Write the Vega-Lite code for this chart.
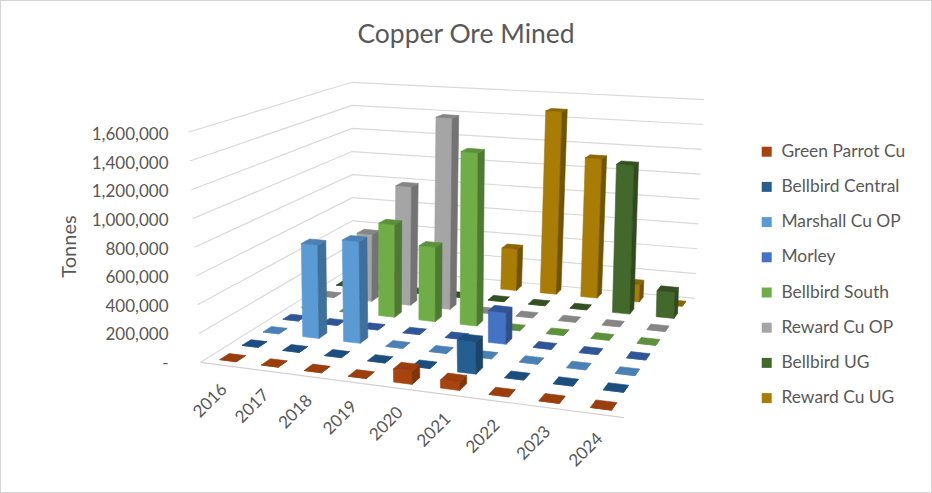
{
"$schema":"https://vega.github.io/schema/vega-lite/v6.json",
"width":932,"height":493,"padding":0,"autosize":{"type":"none"},"background":"white",
"title":{"text":"Copper Ore Mined","fontSize":26.5,"font":"Lato","fontWeight":"normal","color":"#595959","anchor":"middle","frame":"group","offset":-48},
"config":{"view":{"stroke":"#d4d4d4","strokeWidth":2},"font":"Lato"},
"datasets":{
"ticks":[{"tonnes":0},{"tonnes":200000},{"tonnes":400000},{"tonnes":600000},{"tonnes":800000},{"tonnes":1000000},{"tonnes":1200000},{"tonnes":1400000},{"tonnes":1600000}],
"years":[{"year":2016},{"year":2017},{"year":2018},{"year":2019},{"year":2020},{"year":2021},{"year":2022},{"year":2023},{"year":2024}],
"mined":[
{"year":2016,"series":"Reward Cu UG","tonnes":0},{"year":2017,"series":"Reward Cu UG","tonnes":0},{"year":2018,"series":"Reward Cu UG","tonnes":0},{"year":2019,"series":"Reward Cu UG","tonnes":0},{"year":2020,"series":"Reward Cu UG","tonnes":335000},{"year":2021,"series":"Reward Cu UG","tonnes":1476000},{"year":2022,"series":"Reward Cu UG","tonnes":1117000},{"year":2023,"series":"Reward Cu UG","tonnes":137000},{"year":2024,"series":"Reward Cu UG","tonnes":0},
{"year":2016,"series":"Bellbird UG","tonnes":0},{"year":2017,"series":"Bellbird UG","tonnes":0},{"year":2018,"series":"Bellbird UG","tonnes":0},{"year":2019,"series":"Bellbird UG","tonnes":0},{"year":2020,"series":"Bellbird UG","tonnes":0},{"year":2021,"series":"Bellbird UG","tonnes":0},{"year":2022,"series":"Bellbird UG","tonnes":0},{"year":2023,"series":"Bellbird UG","tonnes":1150000},{"year":2024,"series":"Bellbird UG","tonnes":200000},
{"year":2016,"series":"Reward Cu OP","tonnes":0},{"year":2017,"series":"Reward Cu OP","tonnes":527000},{"year":2018,"series":"Reward Cu OP","tonnes":927000},{"year":2019,"series":"Reward Cu OP","tonnes":1485000},{"year":2020,"series":"Reward Cu OP","tonnes":0},{"year":2021,"series":"Reward Cu OP","tonnes":0},{"year":2022,"series":"Reward Cu OP","tonnes":0},{"year":2023,"series":"Reward Cu OP","tonnes":0},{"year":2024,"series":"Reward Cu OP","tonnes":0},
{"year":2016,"series":"Bellbird South","tonnes":0},{"year":2017,"series":"Bellbird South","tonnes":0},{"year":2018,"series":"Bellbird South","tonnes":705000},{"year":2019,"series":"Bellbird South","tonnes":562000},{"year":2020,"series":"Bellbird South","tonnes":1300000},{"year":2021,"series":"Bellbird South","tonnes":0},{"year":2022,"series":"Bellbird South","tonnes":0},{"year":2023,"series":"Bellbird South","tonnes":0},{"year":2024,"series":"Bellbird South","tonnes":0},
{"year":2016,"series":"Morley","tonnes":0},{"year":2017,"series":"Morley","tonnes":0},{"year":2018,"series":"Morley","tonnes":0},{"year":2019,"series":"Morley","tonnes":0},{"year":2020,"series":"Morley","tonnes":0},{"year":2021,"series":"Morley","tonnes":230000},{"year":2022,"series":"Morley","tonnes":0},{"year":2023,"series":"Morley","tonnes":0},{"year":2024,"series":"Morley","tonnes":0},
{"year":2016,"series":"Marshall Cu OP","tonnes":0},{"year":2017,"series":"Marshall Cu OP","tonnes":680000},{"year":2018,"series":"Marshall Cu OP","tonnes":735000},{"year":2019,"series":"Marshall Cu OP","tonnes":0},{"year":2020,"series":"Marshall Cu OP","tonnes":0},{"year":2021,"series":"Marshall Cu OP","tonnes":0},{"year":2022,"series":"Marshall Cu OP","tonnes":0},{"year":2023,"series":"Marshall Cu OP","tonnes":0},{"year":2024,"series":"Marshall Cu OP","tonnes":0},
{"year":2016,"series":"Bellbird Central","tonnes":0},{"year":2017,"series":"Bellbird Central","tonnes":0},{"year":2018,"series":"Bellbird Central","tonnes":0},{"year":2019,"series":"Bellbird Central","tonnes":0},{"year":2020,"series":"Bellbird Central","tonnes":0},{"year":2021,"series":"Bellbird Central","tonnes":220000},{"year":2022,"series":"Bellbird Central","tonnes":0},{"year":2023,"series":"Bellbird Central","tonnes":0},{"year":2024,"series":"Bellbird Central","tonnes":0},
{"year":2016,"series":"Green Parrot Cu","tonnes":0},{"year":2017,"series":"Green Parrot Cu","tonnes":0},{"year":2018,"series":"Green Parrot Cu","tonnes":0},{"year":2019,"series":"Green Parrot Cu","tonnes":0},{"year":2020,"series":"Green Parrot Cu","tonnes":90000},{"year":2021,"series":"Green Parrot Cu","tonnes":55000},{"year":2022,"series":"Green Parrot Cu","tonnes":0},{"year":2023,"series":"Green Parrot Cu","tonnes":0},{"year":2024,"series":"Green Parrot Cu","tonnes":0}
]},
"layer":[
{"data":{"name":"ticks"},
"transform":[
{"calculate":"[0,1,2]","as":"verts"},{"flatten":["verts"],"as":["vert"]},
{"calculate":"[0,0,0.985][datum.vert]","as":"uu"},{"calculate":"[0,1,1][datum.vert]","as":"vv"},
{"calculate":"datum.tonnes/1600000","as":"ww"},
{"calculate":"1-0.13126*datum.uu+0.24436*datum.vv","as":"den"},
{"calculate":"(341.4*datum.uu+238.2*datum.vv+200.7)/datum.den+datum.ww*(-12.4+10*datum.uu+11.4*datum.vv)","as":"px"},
{"calculate":"(0.57*datum.uu-30.06*datum.vv+362.3)/datum.den-datum.ww*(230-45.3*datum.vv+14.3*datum.uu)","as":"py"}],
"mark":{"type":"line","stroke":"#d9d9d9","strokeWidth":1.2},
"encoding":{"x":{"field":"px","type":"quantitative","scale":{"domain":[0,932],"range":[0,932]},"axis":null},
"y":{"field":"py","type":"quantitative","scale":{"domain":[0,493],"range":[0,493]},"axis":null},
"detail":{"field":"tonnes"},"order":{"field":"vert"}}},
{"data":{"values":[{"tonnes":0}]},
"transform":[
{"calculate":"[0,1]","as":"verts"},{"flatten":["verts"],"as":["vert"]},
{"calculate":"datum.vert","as":"uu"},
{"calculate":"1-0.13126*datum.uu","as":"den"},
{"calculate":"(341.4*datum.uu+200.7)/datum.den","as":"px"},
{"calculate":"(0.57*datum.uu+362.3)/datum.den","as":"py"}],
"mark":{"type":"line","stroke":"#d6cfcf","strokeWidth":1.2},
"encoding":{"x":{"field":"px","type":"quantitative","scale":{"domain":[0,932],"range":[0,932]},"axis":null},
"y":{"field":"py","type":"quantitative","scale":{"domain":[0,493],"range":[0,493]},"axis":null},
"order":{"field":"vert"}}},
{"data":{"name":"mined"},
"transform":[
{"calculate":"datum.year-2016","as":"i"},
{"calculate":"indexof(['Green Parrot Cu','Bellbird Central','Marshall Cu OP','Morley','Bellbird South','Reward Cu OP','Bellbird UG','Reward Cu UG'],datum.series)","as":"j"},
{"calculate":"(datum.i+0.3)/9","as":"u0"},{"calculate":"(datum.i+0.7)/9","as":"u1"},
{"calculate":"(datum.j+0.29)/8","as":"v0"},{"calculate":"(datum.j+0.71)/8","as":"v1"},
{"calculate":"datum.tonnes/1600000","as":"w"},
{"calculate":"[0,1,2]","as":"faces"},{"flatten":["faces"],"as":["face"]},
{"calculate":"[0,1,2,3]","as":"verts"},{"flatten":["verts"],"as":["vert"]},
{"calculate":"datum.face==1?datum.u1:[datum.u0,datum.u1,datum.u1,datum.u0][datum.vert]","as":"uu"},
{"calculate":"datum.face==0?datum.v0:datum.face==1?[datum.v0,datum.v1,datum.v1,datum.v0][datum.vert]:[datum.v0,datum.v0,datum.v1,datum.v1][datum.vert]","as":"vv"},
{"calculate":"datum.face==2?datum.w:[0,0,datum.w,datum.w][datum.vert]","as":"ww"},
{"calculate":"1-0.13126*datum.uu+0.24436*datum.vv","as":"den"},
{"calculate":"(341.4*datum.uu+238.2*datum.vv+200.7)/datum.den+datum.ww*(-7.4+5*datum.uu+11.4*datum.vv)","as":"px"},
{"calculate":"(0.57*datum.uu-30.06*datum.vv+362.3)/datum.den-datum.ww*(230-45.3*datum.vv+14.3*datum.uu)","as":"py"},
{"calculate":"datum.face==0?datum.series:datum.series+(datum.face==1?'|side':'|top')","as":"key"},
{"calculate":"datum.series+datum.year+'-'+datum.face","as":"poly"}],
"mark":{"type":"line","strokeWidth":0.6,"interpolate":"linear-closed"},
"encoding":{"x":{"field":"px","type":"quantitative","scale":{"domain":[0,932],"range":[0,932]},"axis":null},
"y":{"field":"py","type":"quantitative","scale":{"domain":[0,493],"range":[0,493]},"axis":null},
"detail":{"field":"poly"},"order":{"field":"vert"},
"stroke":{"field":"key","type":"nominal","legend":null,
"scale":{"domain":["Green Parrot Cu","Bellbird Central","Marshall Cu OP","Morley","Bellbird South","Reward Cu OP","Bellbird UG","Reward Cu UG","Green Parrot Cu|side","Bellbird Central|side","Marshall Cu OP|side","Morley|side","Bellbird South|side","Reward Cu OP|side","Bellbird UG|side","Reward Cu UG|side","Green Parrot Cu|top","Bellbird Central|top","Marshall Cu OP|top","Morley|top","Bellbird South|top","Reward Cu OP|top","Bellbird UG|top","Reward Cu UG|top"],
"range":["#A8430F","#255E91","#5B9BD5","#4472C4","#70AD47","#A5A5A5","#43682B","#A87C05","#7F340B","#1B4468","#3F6F9B","#304F89","#4E7932","#737373","#2F4A1E","#705303","#9A3E0D","#1B4E7E","#4A80B3","#2F5597","#5C913A","#858585","#344F22","#8A6604"]}},
"fill":{"field":"key","type":"nominal",
"scale":{"domain":["Green Parrot Cu","Bellbird Central","Marshall Cu OP","Morley","Bellbird South","Reward Cu OP","Bellbird UG","Reward Cu UG","Green Parrot Cu|side","Bellbird Central|side","Marshall Cu OP|side","Morley|side","Bellbird South|side","Reward Cu OP|side","Bellbird UG|side","Reward Cu UG|side","Green Parrot Cu|top","Bellbird Central|top","Marshall Cu OP|top","Morley|top","Bellbird South|top","Reward Cu OP|top","Bellbird UG|top","Reward Cu UG|top"],
"range":["#A8430F","#255E91","#5B9BD5","#4472C4","#70AD47","#A5A5A5","#43682B","#A87C05","#7F340B","#1B4468","#3F6F9B","#304F89","#4E7932","#737373","#2F4A1E","#705303","#9A3E0D","#1B4E7E","#4A80B3","#2F5597","#5C913A","#858585","#344F22","#8A6604"]},
"legend":{"values":["Green Parrot Cu","Bellbird Central","Marshall Cu OP","Morley","Bellbird South","Reward Cu OP","Bellbird UG","Reward Cu UG"],"title":null,"orient":"none","legendX":758,"legendY":143,"symbolType":"square","symbolSize":100,"symbolStrokeWidth":0,"rowPadding":16.2,"labelFontSize":17.4,"labelFont":"Lato","labelColor":"#595959","labelOffset":6}}}},
{"data":{"name":"years"},
"transform":[
{"calculate":"(datum.year-2016+0.5)/9","as":"uu"},
{"calculate":"1-0.13126*datum.uu","as":"den"},
{"calculate":"(341.4*datum.uu+200.7)/datum.den","as":"px"},
{"calculate":"(0.57*datum.uu+362.3)/datum.den","as":"py"},
{"calculate":"''+datum.year","as":"label"}],
"mark":{"type":"text","angle":315,"align":"right","baseline":"middle","dx":-13.4,"dy":17.7,"fontSize":17,"font":"Lato","color":"#595959"},
"encoding":{"x":{"field":"px","type":"quantitative","scale":{"domain":[0,932],"range":[0,932]},"axis":null},
"y":{"field":"py","type":"quantitative","scale":{"domain":[0,493],"range":[0,493]},"axis":null},
"text":{"field":"label"}}},
{"data":{"name":"ticks"},
"mark":{"type":"tick","opacity":0},
"encoding":{"y":{"field":"tonnes","type":"quantitative","scale":{"domain":[0,1600000],"range":[363.5,134.5]},
"axis":{"values":[0,200000,400000,600000,800000,1000000,1200000,1400000,1600000],"labelExpr":"datum.value==0?'-':format(datum.value,',d')","offset":-168,"domain":false,"ticks":false,"grid":false,"labelPadding":0,"labelFontSize":17,"labelFont":"Lato","labelColor":"#595959","title":"Tonnes","titleFontSize":20,"titleFont":"Lato","titleFontWeight":"normal","titleColor":"#595959","titleX":-89,"titleY":246}}}}
],
"resolve":{"scale":{"y":"independent"},"axis":{"y":"independent"}}
}
